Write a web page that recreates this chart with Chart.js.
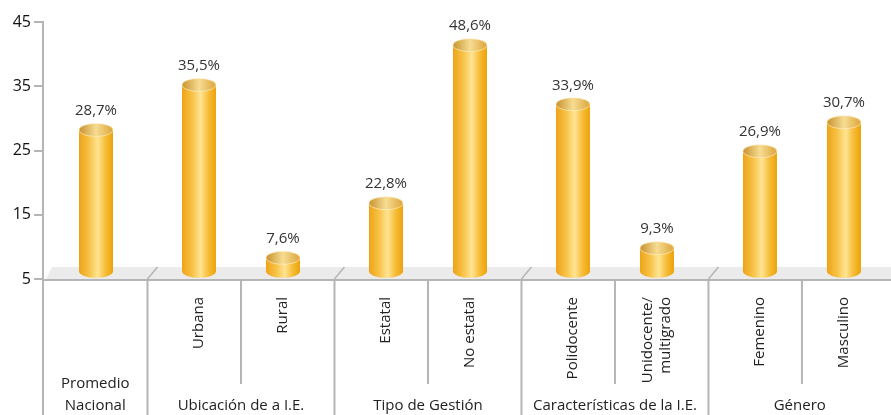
<!DOCTYPE html>
<html>
<head>
<meta charset="utf-8">
<script src="https://cdn.jsdelivr.net/npm/chart.js@4.4.0/dist/chart.umd.min.js"></script>
<style>
  html, body { margin: 0; padding: 0; background: #fff; }
  #wrap { width: 891px; height: 415px; position: relative; }
</style>
</head>
<body>
<div id="wrap"><canvas id="myChart"></canvas></div>
<script>
// data
const categories = ["", "Urbana", "Rural", "Estatal", "No estatal", "Polidocente", "Unidocente/\nmultigrado", "Femenino", "Masculino"];
const groupOf = [0, 1, 1, 2, 2, 3, 3, 4, 4];
const groups = ["Promedio\nNacional", "Ubicación de a I.E.", "Tipo de Gestión", "Características de la I.E.", "Género"];
// bar heights as drawn on the axis
const barValues = [28.2, 35.2, 8.3, 16.8, 41.4, 32.2, 9.8, 24.9, 29.4];
// labels printed above the bars
const valueLabels = ["28,7%", "35,5%", "7,6%", "22,8%", "48,6%", "33,9%", "9,3%", "26,9%", "30,7%"];
const yTicks = [5, 15, 25, 35, 45];

const floorBase = 6.2; // cylinders stand on the floor, a bit above 5
const groupGap = 0.226; // extra space between groups, in category units

const FONT = "'Open Sans', sans-serif";
const GRAY = "#b5b5b5";

// x position of each category: its index plus a gap for each group passed
const xPos = categories.map((c, i) => i + groupGap * groupOf[i]);

const cylinderPlugin = {
  id: "cylinders",
  beforeDatasetsDraw(chart) {
    const ctx = chart.ctx;
    const area = chart.chartArea;
    const meta = chart.getDatasetMeta(0);
    const yBottom = area.bottom;
    const depth = 12;
    // floor
    ctx.save();
    ctx.fillStyle = "#ebebeb";
    ctx.beginPath();
    ctx.moveTo(area.left + 3, yBottom);
    ctx.lineTo(area.left + 9, yBottom - depth);
    ctx.lineTo(chart.width, yBottom - depth);
    ctx.lineTo(chart.width, yBottom);
    ctx.closePath();
    ctx.fill();

    // separators between bars
    const els = meta.data;
    ctx.strokeStyle = GRAY;
    for (let i = 0; i < els.length - 1; i++) {
      const mid = (els[i].x + els[i + 1].x) / 2;
      const isGroup = groupOf[i] !== groupOf[i + 1];
      ctx.lineWidth = 2;
      ctx.beginPath();
      ctx.moveTo(mid, yBottom);
      ctx.lineTo(mid, isGroup ? chart.height : 384);
      ctx.stroke();
      if (isGroup) {
        ctx.lineWidth = 1.5;
        ctx.beginPath();
        ctx.moveTo(mid, yBottom);
        ctx.lineTo(mid + 10, yBottom - depth);
        ctx.stroke();
      }
    }
    // x axis line and y axis extension
    ctx.lineWidth = 2;
    ctx.beginPath();
    ctx.moveTo(area.left, yBottom + 1);
    ctx.lineTo(chart.width, yBottom + 1);
    ctx.moveTo(area.left, yBottom);
    ctx.lineTo(area.left, chart.height);
    ctx.stroke();
    ctx.restore();
  },
  afterDatasetsDraw(chart) {
    const ctx = chart.ctx;
    const meta = chart.getDatasetMeta(0);
    ctx.save();
    meta.data.forEach((el, i) => {
      const x = el.x, top = el.y, base = el.base;
      const rx = el.width / 2, ry = 6.5;

      // body
      const g = ctx.createLinearGradient(x - rx, 0, x + rx, 0);
      g.addColorStop(0, "#eea318");
      g.addColorStop(0.3, "#f7c247");
      g.addColorStop(0.55, "#ffe493");
      g.addColorStop(0.78, "#f6bd38");
      g.addColorStop(1, "#eda208");
      ctx.fillStyle = g;
      ctx.beginPath();
      ctx.moveTo(x - rx, top);
      ctx.lineTo(x - rx, base);
      ctx.ellipse(x, base, rx, ry, 0, Math.PI, 0, true);
      ctx.lineTo(x + rx, top);
      ctx.closePath();
      ctx.fill();

      // top
      const t = ctx.createLinearGradient(x - rx, 0, x + rx, 0);
      t.addColorStop(0, "#c8922c");
      t.addColorStop(0.5, "#f6dc93");
      t.addColorStop(1, "#dda53a");
      ctx.fillStyle = t;
      ctx.beginPath();
      ctx.ellipse(x, top, rx, ry, 0, 0, Math.PI * 2);
      ctx.fill();
      ctx.strokeStyle = "rgba(255,240,200,0.8)";
      ctx.lineWidth = 0.8;
      ctx.stroke();

      // value label
      ctx.fillStyle = "#333";
      ctx.font = "15px " + FONT;
      ctx.textAlign = "center";
      ctx.textBaseline = "middle";
      ctx.fillText(valueLabels[i], x, top - 19);
    });

    // category labels, rotated
    ctx.fillStyle = "#222";
    ctx.font = "15px " + FONT;
    meta.data.forEach((el, i) => {
      const lines = categories[i].split("\n");
      if (!lines[0]) return;
      ctx.save();
      ctx.translate(el.x, 297);
      ctx.rotate(-Math.PI / 2);
      ctx.textAlign = "right";
      ctx.textBaseline = "middle";
      lines.forEach((ln, k) => {
        ctx.fillText(ln, 0, (k - (lines.length - 1) / 2) * 18);
      });
      ctx.restore();
    });

    // group labels at the bottom
    const area = chart.chartArea;
    ctx.textAlign = "center";
    ctx.textBaseline = "middle";
    groups.forEach((name, gi) => {
      const idx = groupOf.map((g, i) => g === gi ? i : -1).filter(i => i >= 0);
      const first = idx[0], last = idx[idx.length - 1];
      const left = first === 0 ? area.left : (meta.data[first - 1].x + meta.data[first].x) / 2;
      const right = last === meta.data.length - 1 ? chart.width : (meta.data[last].x + meta.data[last + 1].x) / 2;
      const lines = name.split("\n");
      lines.forEach((ln, k) => {
        ctx.fillText(ln, (left + right) / 2, 406 - (lines.length - 1 - k) * 22);
      });
    });
    ctx.restore();
  }
};

const ctx = document.getElementById("myChart");
const myChart = new Chart(ctx, {
  type: "bar",
  data: {
    datasets: [
      {
        data: barValues.map((v, i) => ({ x: xPos[i], y: [floorBase, v] })),
        backgroundColor: "rgba(0,0,0,0)",
        borderWidth: 0,
        barThickness: 34,
      },
    ],
  },
  options: {
    responsive: true,
    maintainAspectRatio: false,
    animation: false,
    layout: { padding: { top: 22, bottom: 136, right: 0, left: 0 } },
    plugins: { legend: { display: false }, tooltip: { enabled: false } },
    scales: {
      x: {
        type: "linear",
        display: false,
        offset: false,
        min: -0.631,
        max: 9.464,
      },
      y: {
        min: 5,
        max: 45,
        afterBuildTicks: (scale) => {
          scale.ticks = yTicks.map((v) => ({ value: v }));
        },
        afterFit: (scale) => {
          scale.width = 43;
        },
        border: { color: GRAY, width: 2 },
        grid: { drawOnChartArea: false, color: GRAY, lineWidth: 2, tickLength: 9 },
        ticks: {
          color: "#111",
          padding: 3,
          font: { family: "'Open Sans', sans-serif", size: 16 },
        },
      },
    },
  },
  plugins: [cylinderPlugin],
});
</script>
</body>
</html>
